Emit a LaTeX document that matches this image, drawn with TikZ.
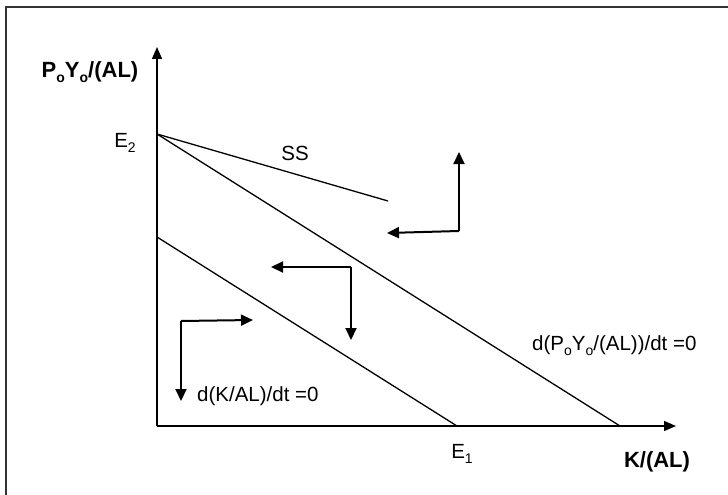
\documentclass[tikz,border=0pt]{standalone}
\usepackage{fontspec}
\setmainfont{Liberation Sans}
\usetikzlibrary{arrows.meta}
\newcommand\sbs[1]{\raisebox{-0.45ex}{\fontsize{14}{14}\selectfont #1}}
\tikzset{
  lbl/.style={font=\fontsize{20.5}{24}\selectfont, inner sep=0pt},
  blbl/.style={font=\fontsize{22}{26}\selectfont\bfseries, inner sep=0pt},
  axisline/.style={line width=1.4pt, -{Triangle[length=12pt,width=10pt]}},
  curve/.style={line width=1.3pt},
  dirarrow/.style={line width=2pt, -{Triangle[length=12pt,width=11pt]}},
}
\begin{document}
\begin{tikzpicture}[x=1pt,y=-1pt]
\useasboundingbox (0,0) rectangle (728,495);
% outer frame (left and top edges visible)
\draw[line width=2pt, black!80] (6,495) -- (6,7) -- (728,7);
% coordinates
\coordinate (O) at (157,426);
\coordinate (ytip) at (157,47);
\coordinate (xtip) at (676,426);
\coordinate (E2pt) at (157,134);
\coordinate (SSend) at (388,201);
\coordinate (Pend) at (620,426);
\coordinate (Kstart) at (157,237);
\coordinate (E1pt) at (457,426);
% axes
\draw[axisline] (O) -- (ytip);
\draw[axisline] (O) -- (xtip);
% lines
\draw[curve] (E2pt) -- (SSend);
\draw[curve] (E2pt) -- (Pend);
\draw[curve] (Kstart) -- (E1pt);
% direction arrows
\coordinate (c1) at (459,231);
\coordinate (c1u) at (459,152);
\coordinate (c1l) at (387,233);
\draw[dirarrow] (c1) -- (c1u);
\draw[dirarrow] (c1) -- (c1l);
\coordinate (c2) at (351,267);
\coordinate (c2l) at (271,267);
\coordinate (c2d) at (351,340);
\draw[dirarrow] (c2) -- (c2l);
\draw[dirarrow] (c2) -- (c2d);
\coordinate (c3) at (181,321);
\coordinate (c3r) at (253,320);
\coordinate (c3d) at (181,401);
\draw[dirarrow] (c3) -- (c3r);
\draw[dirarrow] (c3) -- (c3d);
% labels
\node[blbl] (ylab) at (90,72) {P\sbs{o}Y\sbs{o}/(AL)};
\node[blbl] (xlab) at (657,462) {K/(AL)};
\node[lbl] (E2) at (125,143) {E\sbs{2}};
\node[lbl] (E1) at (462,454) {E\sbs{1}};
\node[lbl] (SS) at (295,153) {SS};
\node[lbl, anchor=west] (kdot) at (197,396) {d(K/AL)/dt =0};
\node[lbl, anchor=west] (pdot) at (532,346) {d(P\sbs{o}Y\sbs{o}/(AL))/dt =0};
\end{tikzpicture}
\end{document}
